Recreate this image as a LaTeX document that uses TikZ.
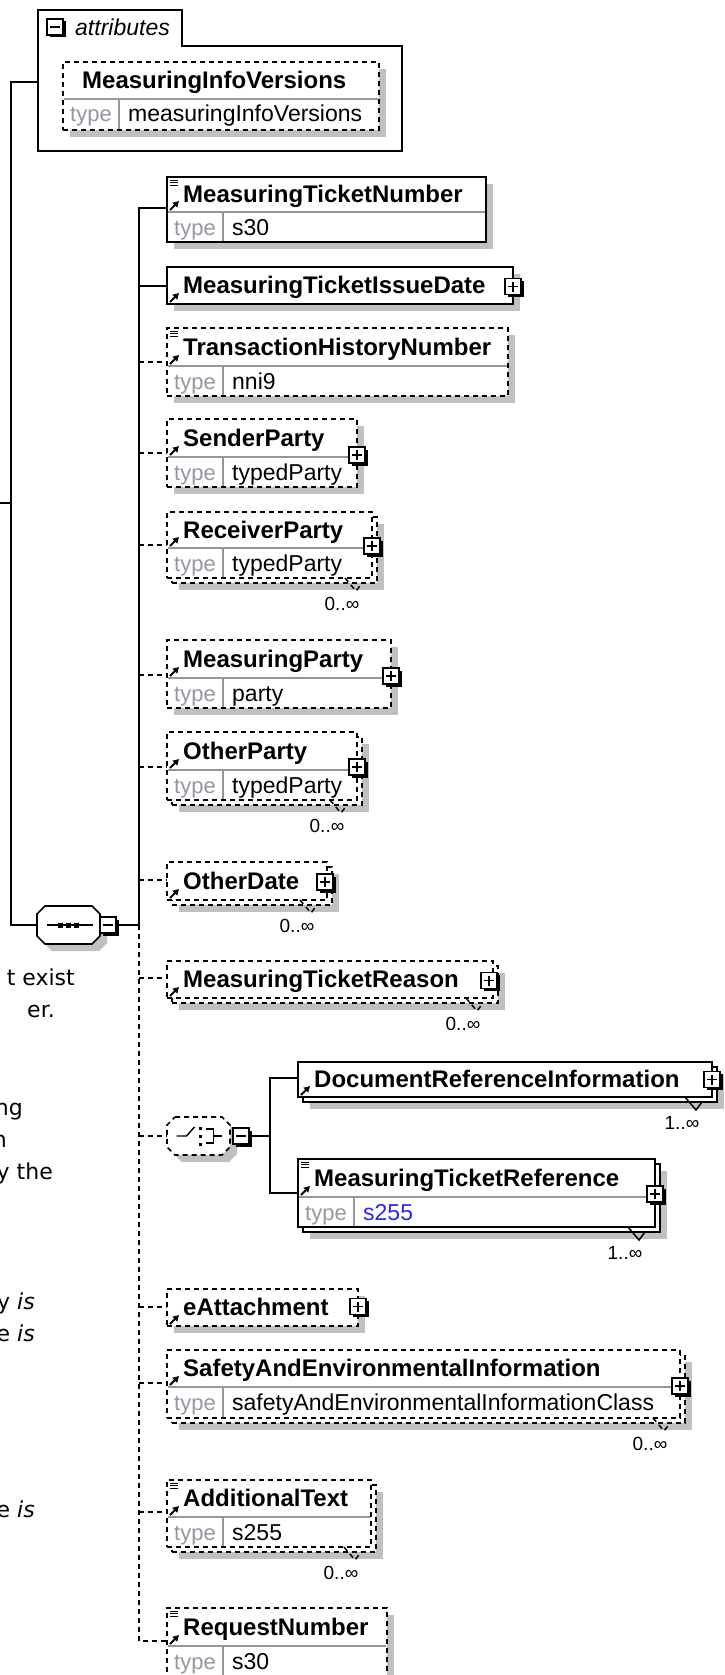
\documentclass[tikz,border=0pt]{standalone}
\usepackage{fontspec}
\setmainfont{Liberation Sans}
\newfontfamily\notefont{DejaVu Sans}
\usetikzlibrary{positioning, calc, arrows.meta, shadows}
\definecolor{shadowgray}{RGB}{192,192,192}
\definecolor{rulegray}{RGB}{150,150,150}
\definecolor{typegray}{RGB}{150,150,165}
\definecolor{refblue}{RGB}{40,40,240}
\tikzset{
    elbox/.style={draw, rectangle, fill=white, line width=1.8pt, anchor=north west, inner sep=0pt, outer sep=0pt},
    optional/.style={dash pattern=on 5pt off 4pt},
    shadowed/.style={drop shadow={shadow xshift=7pt, shadow yshift=-7pt, fill=shadowgray, opacity=1}},
    nametext/.style={anchor=base west, inner sep=0pt, font=\bfseries\fontsize{24}{28}\selectfont},
    typelabel/.style={anchor=base west, inner sep=0pt, text=typegray, font=\fontsize{22}{26}\selectfont},
    typevalue/.style={anchor=base west, inner sep=0pt, font=\fontsize{23}{27}\selectfont},
    occurtext/.style={inner sep=0pt, font=\fontsize{19}{22}\selectfont},
    divider/.style={draw=rulegray, line width=1.5pt},
    link/.style={line width=1.8pt},
    optlink/.style={link, optional},
    refglyph/.style={line width=2pt, -{Triangle[length=6pt, width=6.5pt]}},
    expander/.style={draw, line width=1.5pt, fill=white, minimum size=16pt, inner sep=0pt, outer sep=0pt,
        drop shadow={shadow xshift=2.5pt, shadow yshift=-2.5pt, fill=black, opacity=1}},
    plusbox/.style={expander, path picture={\draw[line width=1.3pt]
        ([xshift=-5pt]path picture bounding box.center) -- ([xshift=5pt]path picture bounding box.center)
        ([yshift=-5pt]path picture bounding box.center) -- ([yshift=5pt]path picture bounding box.center);}},
    minusbox/.style={expander, path picture={\draw[line width=1.3pt]
        ([xshift=-5pt]path picture bounding box.center) -- ([xshift=5pt]path picture bounding box.center);}},
    compositor/.style={rectangle, minimum width=63pt, minimum height=38pt, inner sep=0pt, outer sep=0pt},
    note/.style={anchor=base east, inner sep=0pt, font=\notefont\fontsize{22}{26}\selectfont},
}
\newcommand{\singlebox}[6]{% style, name, x, y, width, height
    \node[elbox, #1, shadowed, minimum width=#5pt, minimum height=#6pt] (#2) at (#3,#4) {};}
\newcommand{\stackbox}[6]{% style, name, x, y, width, height
    \node[elbox, #1, shadowed, minimum width=#5pt, minimum height=#6pt] (#2-back) at (#3+5,#4+5) {};
    \node[elbox, #1, minimum width=#5pt, minimum height=#6pt] (#2) at (#3,#4) {};}
\newcommand{\elname}[4]{% node, name row height, link offset, text
    \node[nametext] (#1-name) at ($(#1.north west)+(16,#2/2+8)$) {#4};
    \draw[refglyph] ($(#1.north west)+(3,#2-2)$) -- ($(#1.north west)+(12,#2-11)$);
    \coordinate (#1-in) at ($(#1.north west)+(0,#3)$);}
\newcommand{\typerow}[3]{% node, name row height, type
    \draw[divider] ($(#1.north west)+(1,#2)$) -- ($(#1.north east)+(-1,#2)$);
    \draw[divider] ($(#1.north west)+(56,#2)$) -- ($(#1.south west)+(56,-1)$);
    \node[typelabel] (#1-type) at ($(#1.north west)+(7,#2+23)$) {type};
    \node[typevalue] (#1-value) at ($(#1.north west)+(65,#2+23)$) {#3};}
\newcommand{\simpleglyph}[1]{%
    \foreach \dy in {3,5.5,8}
        \draw[line width=0.9pt] ($(#1.north west)+(3,\dy)$) -- ++(8,0);}
\newcommand{\occurs}[3]{% back node, style, text
    \draw[line width=1.5pt, #2] ($(#1.south east)+(-32,-5)$) -- ($(#1.south east)+(-21,8)$) -- ($(#1.south east)+(-15,0)$);
    \node[occurtext] (#1-occurs) at ($(#1.south east)+(-35,21)$) {#3};}
\newcommand{\octagon}[2]{% node, style
    \draw[line width=1.6pt, fill=white, shadowed, #2]
        ($(#1.north west)+(8,0)$) -- ($(#1.north east)+(-8,0)$) -- ($(#1.north east)+(0,8)$)
        -- ($(#1.south east)+(0,-8)$) -- ($(#1.south east)+(-8,0)$) -- ($(#1.south west)+(8,0)$)
        -- ($(#1.south west)+(0,-8)$) -- ($(#1.north west)+(0,8)$) -- cycle;}

\begin{document}
\begin{tikzpicture}[x=1pt, y=-1pt]
    \useasboundingbox (0,0) rectangle (725,1675);

    % attributes
    \draw[link, fill=white] (38,10) -| (182,46) -| (402,151) -- (38,151) -- cycle;
    \node[minusbox] (attrs-minus) at (55,27) {};
    \node[anchor=base west, inner sep=0pt, font=\itshape\fontsize{23}{27}\selectfont] (attrs-label) at (75,36) {attributes};
    \singlebox{optional}{miv}{63}{62}{316}{68}
    \node[nametext] (miv-name) at (82,88.5) {MeasuringInfoVersions};
    \typerow{miv}{37}{measuringInfoVersions}
    \coordinate (attrs-in) at (38,82);

    % sequence
    \node[compositor] (seq) at (68.5,925) {};
    \octagon{seq}{solid}
    \draw[line width=1.4pt] ($(seq.center)+(-22,0)$) -- ($(seq.center)+(24,0)$);
    \foreach \dx in {-10.5,-2.5,5.5}
        \fill ($(seq.center)+(\dx,-2.5)$) rectangle ++(5,5);
    \node[minusbox, right=0pt of seq] (seq-minus) {};

    \singlebox{solid}{mtn}{167}{177}{319}{65}
    \elname{mtn}{35}{31}{MeasuringTicketNumber}
    \simpleglyph{mtn}
    \typerow{mtn}{35}{s30}

    \singlebox{solid}{mtid}{167}{267}{346}{37}
    \elname{mtid}{37}{19}{MeasuringTicketIssueDate}
    \node[plusbox] (mtid-plus) at ($(mtid.east)+(0,1)$) {};

    \singlebox{optional}{thn}{167}{328}{341}{68}
    \elname{thn}{38}{34}{TransactionHistoryNumber}
    \simpleglyph{thn}
    \typerow{thn}{38}{nni9}

    \singlebox{optional}{sp}{167}{419}{190}{68}
    \elname{sp}{38}{34}{SenderParty}
    \typerow{sp}{38}{typedParty}
    \node[plusbox] (sp-plus) at ($(sp.north east)+(0,36)$) {};

    \stackbox{optional}{rp}{167}{512}{205}{66}
    \elname{rp}{36}{33}{ReceiverParty}
    \typerow{rp}{36}{typedParty}
    \node[plusbox] (rp-plus) at ($(rp.north east)+(0,34)$) {};
    \occurs{rp-back}{optional}{0..∞}

    \singlebox{optional}{mp}{167}{640}{224}{68}
    \elname{mp}{38}{35}{MeasuringParty}
    \typerow{mp}{38}{party}
    \node[plusbox] (mp-plus) at ($(mp.north east)+(0,36)$) {};

    \stackbox{optional}{op}{167}{732}{190}{68}
    \elname{op}{38}{35}{OtherParty}
    \typerow{op}{38}{typedParty}
    \node[plusbox] (op-plus) at ($(op.north east)+(0,35)$) {};
    \occurs{op-back}{optional}{0..∞}

    \stackbox{optional}{od}{167}{862}{160}{38}
    \elname{od}{38}{18}{OtherDate}
    \node[plusbox] (od-plus) at ($(od.east)+(-2,1)$) {};
    \occurs{od-back}{optional}{0..∞}

    \stackbox{optional}{mtrs}{167}{961}{326}{37}
    \elname{mtrs}{37}{17}{MeasuringTicketReason}
    \node[plusbox] (mtrs-plus) at ($(mtrs.east)+(-4,1)$) {};
    \occurs{mtrs-back}{optional}{0..∞}

    % choice
    \node[compositor] (choice) at (198.5,1136) {};
    \octagon{choice}{optional}
    \draw[line width=1.4pt] ($(choice.center)+(-22,0)$) -- ++(10,0) -- ++(8,-9);
    \foreach \dy in {-9,-1,7}
        \fill ($(choice.center)+(0,\dy)$) rectangle ++(3.5,3);
    \draw[line width=1.4pt] ($(choice.center)+(7,-7)$) -- ++(8,0) -- ++(0,14) -- ++(-8,0)
        ($(choice.center)+(15,0)$) -- ++(8,0);
    \node[minusbox, right=3pt of choice] (choice-minus) {};

    \stackbox{solid}{dri}{298}{1062}{414}{35}
    \elname{dri}{35}{16}{DocumentReferenceInformation}
    \node[plusbox] (dri-plus) at (dri.east) {};
    \occurs{dri-back}{solid}{1..∞}

    \stackbox{solid}{mtr}{298}{1159}{357}{68}
    \elname{mtr}{38}{34}{MeasuringTicketReference}
    \simpleglyph{mtr}
    \typerow{mtr}{38}{\textcolor{refblue}{s255}}
    \node[plusbox] (mtr-plus) at ($(mtr.north east)+(0,35)$) {};
    \occurs{mtr-back}{solid}{1..∞}

    \singlebox{optional}{eatt}{167}{1289}{191}{37}
    \elname{eatt}{37}{18}{eAttachment}
    \node[plusbox] (eatt-plus) at ($(eatt.east)+(0,-1)$) {};

    \stackbox{optional}{saei}{167}{1350}{513}{68}
    \elname{saei}{37}{33}{SafetyAndEnvironmentalInformation}
    \typerow{saei}{37}{safetyAndEnvironmentalInformationClass}
    \node[plusbox] (saei-plus) at ($(saei.north east)+(0,36)$) {};
    \occurs{saei-back}{optional}{0..∞}

    \stackbox{optional}{at}{167}{1480}{204}{67}
    \elname{at}{37}{32}{AdditionalText}
    \simpleglyph{at}
    \typerow{at}{37}{s255}
    \occurs{at-back}{optional}{0..∞}

    \singlebox{optional}{rn}{167}{1608}{220}{68}
    \elname{rn}{38}{33}{RequestNumber}
    \simpleglyph{rn}
    \typerow{rn}{38}{s30}

    % connectors
    \coordinate (parent) at (0,503);
    \coordinate (trunk) at (11,503);
    \coordinate (spine) at (139,925);
    \coordinate (fork) at (270,1136);
    \draw[link] (parent) -- (trunk);
    \draw[link] (attrs-in) -| (trunk) |- (seq.west);
    \draw[link] (seq-minus) -- (spine);
    \draw[link] (spine) -- (spine |- mtn-in) -- (mtn-in);
    \draw[link] (spine |- mtid-in) -- (mtid-in);
    \draw[optlink] (spine) -- (spine |- rn-in) -- (rn-in);
    \foreach \child in {thn, sp, rp, mp, op, od, mtrs, eatt, saei, at}
        \draw[optlink] (spine |- \child-in) -- (\child-in);
    \draw[optlink] (spine |- choice.west) -- (choice.west);
    \draw[link] (choice-minus) -- (fork);
    \draw[link] (dri-in) -| (fork) |- (mtr-in);

    % text cut off at the left
    \node[note] (note-a) at (75,985) {t exist};
    \node[note] (note-b) at (55,1017) {er.};
    \node[note] (note-c) at (23,1115) {ng};
    \node[note] (note-d) at (7,1147) {n};
    \node[note] (note-e) at (53,1179) {y the};
    \node[note] (note-f) at (35,1309) {y \textit{is}};
    \node[note] (note-g) at (35,1341) {e \textit{is}};
    \node[note] (note-h) at (35,1517) {e \textit{is}};
\end{tikzpicture}
\end{document}
